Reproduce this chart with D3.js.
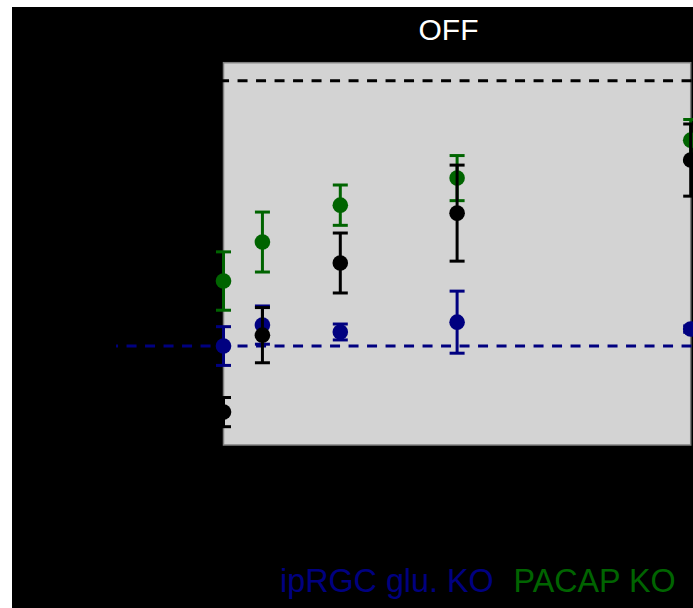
<!DOCTYPE html>
<html>
<head>
<meta charset="utf-8">
<script src="https://cdn.jsdelivr.net/npm/d3@7"></script>
<style>
  html, body { margin: 0; padding: 0; background: #ffffff; }
  svg { display: block; }
  text { font-family: "Liberation Sans", Arial, Helvetica, sans-serif; }
</style>
</head>
<body>
<div id="chart"></div>
<script>
// Doses along the x axis
const doses = [0, 0.5, 1.5, 3, 6];

// Normalised OFF response: mean and error per dose
const gluKoMean  = [0.000, 0.079, 0.053, 0.090, 0.064];
const gluKoErr   = [0.073, 0.072, 0.030, 0.117, 0.012];
const pacapMean  = [0.245, 0.392, 0.531, 0.633, 0.776];
const pacapErr   = [0.110, 0.113, 0.076, 0.085, 0.078];
const wtMean     = [-0.249, 0.041, 0.313, 0.501, 0.701];
const wtErr      = [0.055, 0.104, 0.113, 0.181, 0.136];

// Horizontal reference levels
const refLevels = [0, 1];
const refStart = -1.38;

const seriesNames = ["ipRGC glu. KO", "PACAP KO", "WT"];
const seriesColors = ["#000080", "#006400", "#000000"];
const legendNames = ["ipRGC glu. KO", "PACAP KO"];
const legendColors = ["#000080", "#006400"];
const title = "OFF";

const W = 693, H = 608;
const svg = d3.select("#chart").append("svg")
  .attr("width", W).attr("height", H);

// dark backdrop
svg.append("rect").attr("x", 12).attr("y", 7)
  .attr("width", W - 12).attr("height", H - 7).attr("fill", "#000");

const x = d3.scaleLinear().domain([0, 6]).range([223.5, 690.7]);
const y = d3.scaleLinear().domain([-0.373, 1.068]).range([445, 62.7]);

// plotting panel
svg.append("rect")
  .attr("x", x(0)).attr("y", y(1.068))
  .attr("width", x(6) - x(0)).attr("height", y(-0.373) - y(1.068))
  .attr("fill", "#d3d3d3").attr("stroke", "#808080").attr("stroke-width", 1.5);

// reference lines
const refColors = ["#000080", "#000000"];
svg.selectAll("line.ref").data(refLevels).join("line")
  .attr("class", "ref")
  .attr("x1", x(refStart)).attr("x2", x(6.2))
  .attr("y1", d => y(d)).attr("y2", d => y(d))
  .attr("stroke", (d, i) => refColors[i])
  .attr("stroke-width", 3)
  .attr("stroke-dasharray", "10,8.5")
  .attr("stroke-dashoffset", 8);

const series = [
  { mean: gluKoMean, err: gluKoErr },
  { mean: pacapMean, err: pacapErr },
  { mean: wtMean, err: wtErr }
];

const capHalf = 7.5;
series.forEach((s, si) => {
  const color = seriesColors[si];
  const pts = doses.map((d, i) => ({ d, m: s.mean[i], e: s.err[i] }));
  const g = svg.append("g").attr("class", "series").attr("data-name", seriesNames[si]);
  const eb = g.selectAll("g.eb").data(pts).join("g").attr("class", "eb")
    .attr("stroke", color).attr("stroke-width", 3);
  eb.append("line")
    .attr("x1", p => x(p.d)).attr("x2", p => x(p.d))
    .attr("y1", p => y(p.m - p.e)).attr("y2", p => y(p.m + p.e));
  eb.append("line")
    .attr("x1", p => x(p.d) - capHalf).attr("x2", p => x(p.d) + capHalf)
    .attr("y1", p => y(p.m + p.e)).attr("y2", p => y(p.m + p.e));
  eb.append("line")
    .attr("x1", p => x(p.d) - capHalf).attr("x2", p => x(p.d) + capHalf)
    .attr("y1", p => y(p.m - p.e)).attr("y2", p => y(p.m - p.e));
  g.selectAll("circle").data(pts).join("circle")
    .attr("cx", p => x(p.d)).attr("cy", p => y(p.m))
    .attr("r", 7.8).attr("fill", color);
});

// title
svg.append("text").attr("x", 448.5).attr("y", 40)
  .attr("text-anchor", "middle").attr("fill", "#fff")
  .attr("font-size", 30).text(title);

// legend
const legendX = [280, 513.5];
svg.selectAll("text.legend").data(legendNames).join("text")
  .attr("class", "legend")
  .attr("x", (d, i) => legendX[i]).attr("y", 592)
  .attr("fill", (d, i) => legendColors[i])
  .attr("font-size", 32.3).text(d => d);
</script>
</body>
</html>
